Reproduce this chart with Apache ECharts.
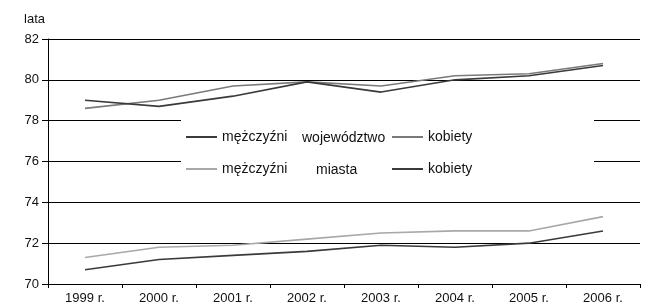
<!DOCTYPE html>
<html>
<head>
<meta charset="utf-8">
<script src="https://cdn.jsdelivr.net/npm/echarts@6/dist/echarts.min.js"></script>
<style>
  html, body { margin: 0; padding: 0; background: #fff; }
  #chart { width: 648px; height: 305px; }
</style>
</head>
<body>
<div id="chart"></div>
<script>
// dane
const years = ["1999 r.", "2000 r.", "2001 r.", "2002 r.", "2003 r.", "2004 r.", "2005 r.", "2006 r."];
const kobietyWoj = [78.6, 79.0, 79.7, 79.9, 79.7, 80.2, 80.3, 80.8];
const kobietyMiasta = [79.0, 78.7, 79.2, 79.9, 79.4, 80.0, 80.2, 80.7];
const mezczyzniMiasta = [71.3, 71.8, 71.9, 72.2, 72.5, 72.6, 72.6, 73.3];
const mezczyzniWoj = [70.7, 71.2, 71.4, 71.6, 71.9, 71.8, 72.0, 72.6];

const DARK = "#3a3a3a";
const GRAY = "#7a7a7a";
const LIGHT = "#a8a8a8";
const FONT = "Liberation Sans, Arial, sans-serif";
const TXT = "#111";

// jedna legenda na pozycję
function legendItem(name, left, top) {
  return {
    data: [name],
    left: left,
    top: top,
    icon: "rect",
    itemWidth: 31,
    itemHeight: 2,
    padding: 0,
    selectedMode: false,
    formatter: function (n) {
      return n.split(" ")[0];
    },
    textStyle: { fontFamily: FONT, fontSize: 14, color: TXT },
  };
}

function line(name, data, color) {
  return {
    name: name,
    type: "line",
    data: data,
    symbol: "none",
    smooth: false,
    lineStyle: { color: color, width: 1.6 },
    itemStyle: { color: color },
  };
}

let option = {
  animation: false,
  backgroundColor: "#fff",
  grid: { left: 48, right: 8, top: 39, bottom: 20 },
  legend: [
    legendItem("mężczyźni województwo", 186, 130),
    legendItem("kobiety województwo", 392, 130),
    legendItem("mężczyźni miasta", 186, 162),
    legendItem("kobiety miasta", 392, 162),
  ],
  graphic: [
    {
      type: "rect",
      z: 3,
      shape: { x: 181, y: 100, width: 413, height: 90 },
      style: { fill: "#fff" },
    },
    {
      type: "text",
      z: 5,
      x: 302,
      y: 138,
      style: { text: "województwo", font: "14px " + FONT, fill: TXT, verticalAlign: "middle" },
    },
    {
      type: "text",
      z: 5,
      x: 316,
      y: 170,
      style: { text: "miasta", font: "14px " + FONT, fill: TXT, verticalAlign: "middle" },
    },
  ],
  xAxis: {
    type: "category",
    data: years,
    boundaryGap: true,
    axisLine: { lineStyle: { color: "#000", width: 1 } },
    axisTick: { show: true, length: 4, alignWithLabel: false, lineStyle: { color: "#000" } },
    axisLabel: { fontFamily: FONT, fontSize: 13, color: TXT, margin: 8, interval: 0 },
  },
  yAxis: {
    type: "value",
    name: "lata",
    nameLocation: "end",
    nameGap: 13,
    nameTextStyle: { fontFamily: FONT, fontSize: 13, color: TXT, align: "right", padding: [0, 3, 0, 0] },
    min: 70,
    max: 82,
    interval: 2,
    axisLine: { show: true, lineStyle: { color: "#000", width: 1 } },
    axisTick: { show: true, length: 6, lineStyle: { color: "#000" } },
    axisLabel: { fontFamily: FONT, fontSize: 13, color: TXT, margin: 9 },
    splitLine: { show: true, lineStyle: { color: "#000", width: 1 } },
  },
  series: [
    line("mężczyźni województwo", mezczyzniWoj, DARK),
    line("kobiety województwo", kobietyWoj, GRAY),
    line("mężczyźni miasta", mezczyzniMiasta, LIGHT),
    line("kobiety miasta", kobietyMiasta, DARK),
  ],
};

let myChart = echarts.init(document.getElementById("chart"), null, { renderer: "canvas" });
myChart.setOption(option);
</script>
</body>
</html>
